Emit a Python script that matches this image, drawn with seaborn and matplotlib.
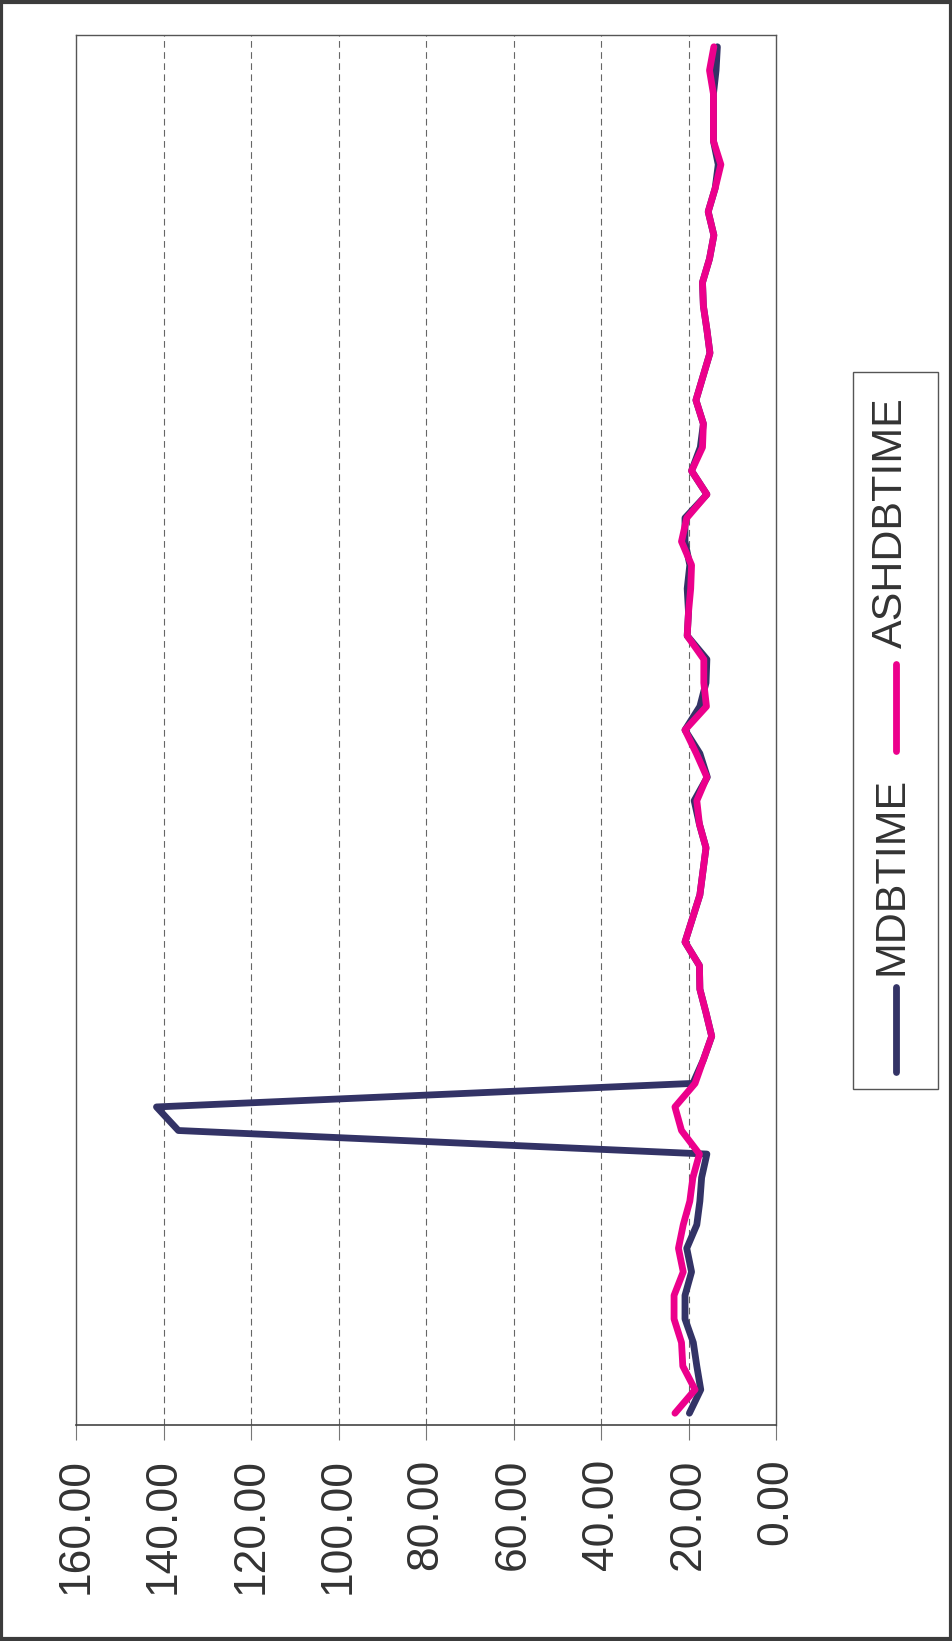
import numpy as np
import pandas as pd
import matplotlib
matplotlib.use("Agg")
import matplotlib.pyplot as plt
from matplotlib.lines import Line2D
from matplotlib.patches import Rectangle
import seaborn as sns

# Sample number (first sample at the bottom of the rotated chart)
samples = list(range(1, 60))

mdbtime = [19.8, 17.2, 18.1, 18.9, 20.8, 20.8, 19.3, 20.4, 18.1, 17.4,
           17.0, 15.8, 136.6, 141.6, 19.0, 16.6, 14.7, 16.0, 17.4, 17.5,
           20.8, 19.1, 17.4, 16.7, 16.0, 17.5, 18.7, 15.7, 17.4, 20.8,
           17.4, 16.0, 15.8, 20.3, 20.0, 20.3, 19.7, 20.8, 20.8, 15.8,
           19.3, 17.3, 16.6, 18.3, 16.7, 15.1, 15.8, 16.6, 16.8, 15.2,
           14.2, 15.5, 13.9, 13.2, 14.3, 14.3, 14.3, 13.7, 13.4]

ashdbtime = [23.1, 18.5, 21.3, 21.6, 23.3, 23.3, 21.2, 22.3, 21.2, 19.7,
             19.0, 17.5, 21.6, 23.1, 18.5, 16.6, 14.7, 16.0, 17.4, 17.5,
             20.8, 19.1, 17.4, 16.7, 16.0, 17.5, 18.1, 15.8, 18.2, 20.8,
             15.9, 16.5, 16.5, 20.3, 20.0, 19.5, 19.3, 21.6, 20.4, 15.8,
             19.3, 16.8, 16.6, 18.3, 16.7, 15.1, 15.8, 16.6, 16.8, 15.2,
             14.2, 15.5, 13.9, 12.6, 14.3, 14.3, 14.3, 15.2, 14.2]

series_names = ["MDBTIME", "ASHDBTIME"]
series_colors = ["#333366", "#EC008C"]
value_ticks = [0, 20, 40, 60, 80, 100, 120, 140, 160]

sns.set_theme(style="white")
plt.rcParams["font.family"] = ["Liberation Sans", "DejaVu Sans"]

W, H = 952, 1641
fig = plt.figure(figsize=(W / 100, H / 100), dpi=100)
fig.patch.set_facecolor("white")

# plot area in pixel terms: x 76..776, y 35..1425 (from top)
ax = fig.add_axes([76 / W, (H - 1425) / H, 700 / W, 1390 / H])
ax.set_facecolor("white")

df = pd.DataFrame({
    "sample": samples * 2,
    "value": mdbtime + ashdbtime,
    "series": [series_names[0]] * len(samples) + [series_names[1]] * len(samples),
})

LW = 4.9
for name, color, z in zip(series_names, series_colors, [3, 4]):
    sub = df[df["series"] == name]
    sns.lineplot(data=sub, x="value", y="sample", sort=False, estimator=None,
                 color=color, linewidth=LW, ax=ax, legend=False, zorder=z)

for ln in ax.lines:
    ln.set_solid_capstyle("round")
    ln.set_solid_joinstyle("round")

ax.set_xlim(160, 0)
ax.set_ylim(0.5, len(samples) + 0.5)
ax.set_xlabel("")
ax.set_ylabel("")
ax.set_yticks([])
ax.set_xticks(value_ticks)
ax.set_xticklabels([f"{v:.2f}" for v in value_ticks])

# dashed gridlines along the value axis
for v in value_ticks[1:-1]:
    ax.axvline(v, color="#666666", linewidth=0.8, linestyle=(0, (6, 4)), zorder=1)

for side in ["top", "left", "right"]:
    ax.spines[side].set_color("#555555")
    ax.spines[side].set_linewidth(1.0)
ax.spines["bottom"].set_color("#444444")
ax.spines["bottom"].set_linewidth(1.2)

ax.tick_params(axis="x", direction="out", length=11, width=0.8, color="#777777",
               pad=13, labelsize=32, labelcolor="#333333", labelrotation=90,
               bottom=True)

# legend box drawn in rotated form on the right side
def fx(px):
    return px / W

def fy(py):
    return (H - py) / H

fig.patches.append(Rectangle((fx(853), fy(1089)), fx(938) - fx(853), fy(372) - fy(1089),
                             transform=fig.transFigure, facecolor="white",
                             edgecolor="#555555", linewidth=1.0))

legend_items = [
    (series_names[0], series_colors[0], (987, 1072), 975),
    (series_names[1], series_colors[1], (664, 751), 648),
]
for name, color, (y0, y1), text_start in legend_items:
    fig.lines.append(Line2D([fx(896), fx(896)], [fy(y1), fy(y0)],
                            transform=fig.transFigure, color=color, linewidth=LW,
                            solid_capstyle="round"))
    fig.text(fx(902), fy(text_start), name, rotation=90, rotation_mode="anchor",
             ha="left", va="baseline", fontsize=31, color="#333333")

# outer frame around the whole chart
fig.patches.append(Rectangle((0.0015, 0.001), 0.997, 0.998, transform=fig.transFigure,
                             facecolor="none", edgecolor="#3c3c3c", linewidth=3.0))

fig.savefig("out.png", dpi=100, facecolor="white")
